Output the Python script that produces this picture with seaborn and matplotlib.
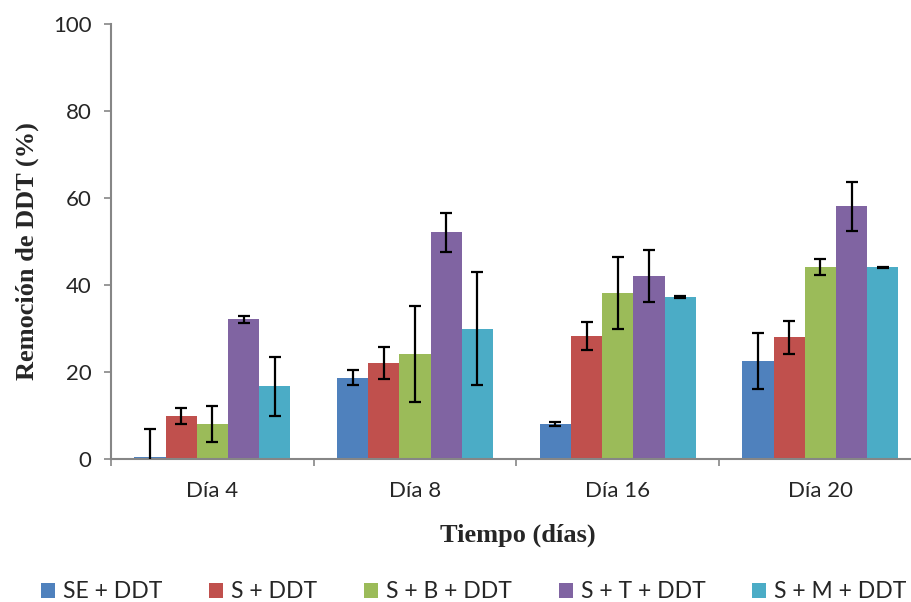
import matplotlib
matplotlib.use("Agg")
import matplotlib.pyplot as plt
import seaborn as sns
import pandas as pd
from matplotlib.patches import Patch

days = ["Día 4", "Día 8", "Día 16", "Día 20"]
treatments = ["SE + DDT", "S + DDT", "S + B + DDT", "S + T + DDT", "S + M + DDT"]
colors = ["#4F81BD", "#C0504D", "#9BBB59", "#8064A2", "#4BACC6"]

# removal (%) per treatment, across days
se_ddt = [0.5, 18.7, 8.0, 22.5]
s_ddt = [9.9, 22.1, 28.3, 28.0]
sb_ddt = [8.0, 24.1, 38.1, 44.1]
st_ddt = [32.1, 52.1, 42.1, 58.1]
sm_ddt = [16.7, 30.0, 37.2, 44.1]

# error (±)
se_err = [6.5, 1.75, 0.5, 6.5]
s_err = [1.9, 3.65, 3.15, 3.8]
sb_err = [4.1, 11.0, 8.3, 1.85]
st_err = [0.8, 4.55, 6.0, 5.6]
sm_err = [6.8, 13.0, 0.2, 0.1]

values = [se_ddt, s_ddt, sb_ddt, st_ddt, sm_ddt]
errors = [se_err, s_err, sb_err, st_err, sm_err]

rows = []
for t, vals in zip(treatments, values):
    for d, v in zip(days, vals):
        rows.append({"Día": d, "Tratamiento": t, "Remoción": v})
df = pd.DataFrame(rows)

sns.set_style("white")
plt.rcParams["font.family"] = ["Lato", "DejaVu Sans"]

fig = plt.figure(figsize=(9.12, 6.02), dpi=100)
ax = fig.add_axes([111 / 912, (602 - 459) / 602, 810.8 / 912, 435 / 602])

sns.barplot(data=df, x="Día", y="Remoción", hue="Tratamiento", order=days,
            hue_order=treatments, palette=colors, width=0.77, linewidth=0,
            saturation=1, ax=ax, legend=False)

for cont, err in zip(ax.containers, errors):
    xs = [p.get_x() + p.get_width() / 2 for p in cont.patches]
    hs = [p.get_height() for p in cont.patches]
    ax.errorbar(xs, hs, yerr=err, fmt="none", ecolor="black", elinewidth=1.6,
                capsize=4.5, capthick=1.6, zorder=5)

ax.set_ylim(0, 100)
ax.set_xlim(-0.5, 3.5)
ax.set_yticks([0, 20, 40, 60, 80, 100])
ax.tick_params(axis="y", labelsize=16, length=5, width=1.2, color="#868686",
               pad=9, left=True, direction="out")
ax.set_xticks([-0.5, 0.5, 1.5, 2.5, 3.5])
ax.set_xticklabels([])
ax.set_xticks(range(len(days)), minor=True)
ax.set_xticklabels(days, minor=True)
ax.tick_params(axis="x", which="major", length=5, width=1.2, color="#868686",
               bottom=True, direction="out")
ax.tick_params(axis="x", which="minor", length=0, labelsize=16, pad=16)

for s in ["top", "right"]:
    ax.spines[s].set_visible(False)
for s in ["left", "bottom"]:
    ax.spines[s].set_color("#868686")
    ax.spines[s].set_linewidth(1.5)

ax.set_xlabel("")
ax.set_ylabel("")
fig.text(518 / 912, 1 - 535 / 602, "Tiempo (días)", ha="center", va="center",
         fontsize=19, fontweight="bold", family="Liberation Serif")
fig.text(27 / 912, 1 - 251 / 602, "Remoción de DDT (%)", ha="center", va="center",
         rotation=90, fontsize=19, fontweight="bold", family="Liberation Serif")

handles = [Patch(facecolor=c, edgecolor="none") for c in colors]
fig.legend(handles, treatments, loc="center", bbox_to_anchor=(474 / 912, 1 - 592 / 602),
           ncol=5, frameon=False, fontsize=16.5, handlelength=0.6, handleheight=0.6,
           handletextpad=0.35, columnspacing=2.05, borderaxespad=0, borderpad=0)

fig.savefig("out.png", dpi=100)
